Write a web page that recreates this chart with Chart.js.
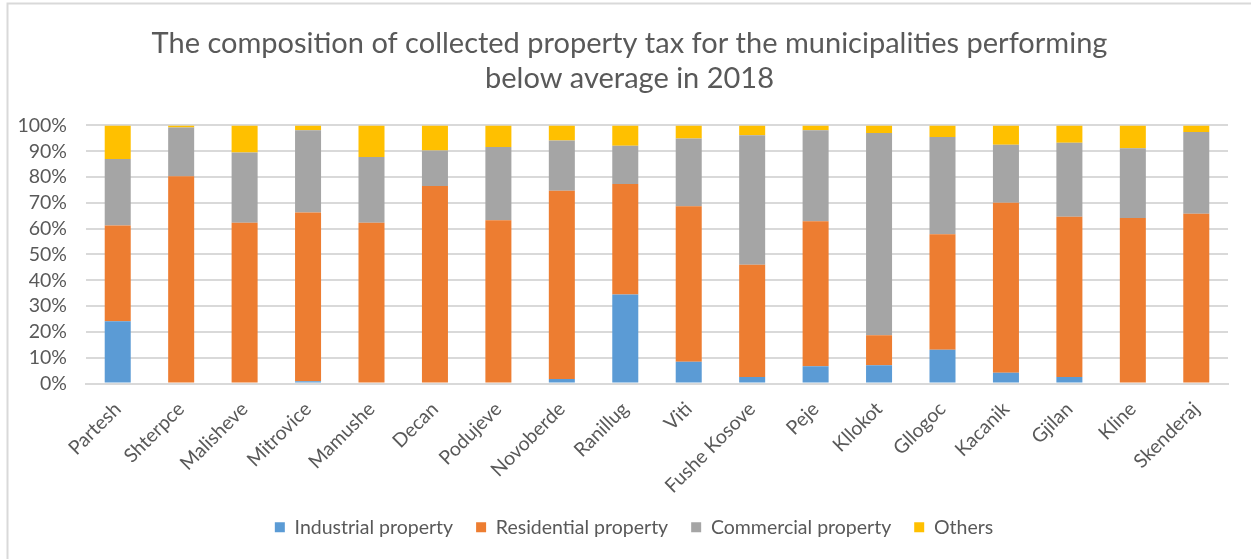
<!DOCTYPE html>
<html>
<head>
<meta charset="utf-8">
<script src="https://cdn.jsdelivr.net/npm/chart.js@4"></script>
<style>
  html, body { margin: 0; padding: 0; background: #ffffff; }
  #wrap { position: relative; width: 1251px; height: 559px; }
</style>
</head>
<body>
<div id="wrap"><canvas id="chart" width="1251" height="559"></canvas></div>
<script>
// Municipalities, in the order shown on the axis
const municipalities = ['Partesh', 'Shterpce', 'Malisheve', 'Mitrovice', 'Mamushe', 'Decan',
  'Podujeve', 'Novoberde', 'Ranillug', 'Viti', 'Fushe Kosove', 'Peje', 'Kllokot',
  'Gllogoc', 'Kacanik', 'Gjilan', 'Kline', 'Skenderaj'];

// Share of collected property tax by property type (%)
const industrial  = [24.1, 0.0, 0.0, 0.9, 0.0, 0.0, 0.0, 1.7, 34.5, 8.4, 2.5, 6.7, 7.1, 13.1, 4.2, 2.5, 0.4, 0.0];
const residential = [37.1, 80.3, 62.3, 65.4, 62.3, 76.5, 63.3, 73.0, 42.8, 60.3, 43.5, 56.2, 11.6, 44.7, 65.8, 62.1, 63.7, 65.8];
const commercial  = [25.8, 18.9, 27.2, 31.8, 25.5, 13.8, 28.3, 19.5, 14.8, 26.2, 50.2, 35.2, 78.4, 37.7, 22.5, 28.7, 27.1, 31.7];
const others      = [13.0, 0.8, 10.5, 1.9, 12.2, 9.7, 8.4, 5.8, 7.9, 5.1, 3.8, 1.9, 2.9, 4.5, 7.5, 6.7, 8.8, 2.5];

const titleLines = ['The composition of collected property tax for the municipalities performing',
  'below average in 2018'];

const textColor = '#595959';
const gridColor = '#d9d9d9';
const fontFamily = 'Lato, "Open Sans", sans-serif';
const labelSize = 19.5;

// Light frame along the chart's top and left edges
const framePlugin = {
  id: 'frame',
  beforeDraw(chart) {
    const ctx = chart.ctx;
    ctx.save();
    ctx.fillStyle = '#ffffff';
    ctx.fillRect(0, 0, chart.width, chart.height);
    ctx.strokeStyle = gridColor;
    ctx.lineWidth = 2;
    ctx.beginPath();
    ctx.moveTo(7.5, chart.height);
    ctx.lineTo(7.5, 3.5);
    ctx.lineTo(chart.width, 3.5);
    ctx.stroke();
    ctx.restore();
  }
};

// Centre the title and legend on the whole frame rather than the padded box
const centrePlugin = {
  id: 'centre',
  afterLayout(chart) {
    if (chart.titleBlock) { chart.titleBlock.left += 21; }
    if (chart.legend) { chart.legend.left += 15; chart.legend.right += 15; }
  }
};

new Chart(document.getElementById('chart'), {
  type: 'bar',
  data: {
    labels: municipalities,
    datasets: [
      { label: 'Industrial property', data: industrial, backgroundColor: '#5B9BD5' },
      { label: 'Residential property', data: residential, backgroundColor: '#ED7D31' },
      { label: 'Commercial property', data: commercial, backgroundColor: '#A5A5A5' },
      { label: 'Others', data: others, backgroundColor: '#FFC000' }
    ]
  },
  options: {
    responsive: false,
    animation: false,
    datasets: { bar: { categoryPercentage: 0.82, barPercentage: 0.5, borderWidth: 0 } },
    layout: { padding: { left: 10, right: 23, top: 12, bottom: 12 } },
    plugins: {
      title: {
        display: true,
        text: titleLines,
        color: textColor,
        font: { family: fontFamily, size: 29, weight: 'normal', lineHeight: 1.18 },
        padding: { top: 15, bottom: 30 }
      },
      legend: {
        position: 'bottom',
        labels: {
          color: textColor,
          font: { family: fontFamily, size: labelSize },
          boxWidth: 10,
          boxHeight: 10,
          padding: 23
        }
      },
      tooltip: { enabled: false }
    },
    scales: {
      x: {
        stacked: true,
        afterFit(scale) { scale.height = 111; },
        grid: { display: false },
        border: { color: gridColor, width: 2 },
        ticks: {
          color: textColor,
          font: { family: fontFamily, size: labelSize },
          minRotation: 45,
          maxRotation: 45,
          autoSkip: false,
          padding: 6
        }
      },
      y: {
        stacked: true,
        min: 0,
        max: 100,
        afterFit(scale) { scale.width = 76; },
        grid: { color: gridColor, lineWidth: 2, drawTicks: false },
        border: { display: false },
        ticks: {
          stepSize: 10,
          autoSkip: false,
          color: textColor,
          font: { family: fontFamily, size: labelSize },
          padding: 19,
          callback: v => v + '%'
        }
      }
    }
  },
  plugins: [framePlugin, centrePlugin]
});
</script>
</body>
</html>
